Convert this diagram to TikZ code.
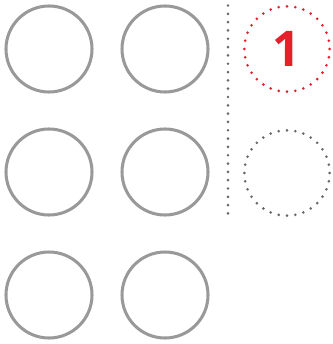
\documentclass[tikz,border=0pt]{standalone}
\usepackage{fontspec}
\newfontfamily\digitfont{Open Sans}
\usetikzlibrary{positioning}
\definecolor{ringgray}{RGB}{153, 153, 153}
\definecolor{dotgray}{RGB}{105, 105, 105}
\definecolor{markred}{RGB}{230, 32, 42}
\tikzset{
  ring/.style       = {circle, draw=ringgray, line width=2.6pt, minimum size=2.58cm, inner sep=0pt},
  dotring/.style    = {circle, line width=2.5pt, line cap=round, dash pattern=on 0pt off 7.15pt, minimum size=2.56cm, inner sep=0pt},
  divider/.style    = {dotgray, line width=2.5pt, line cap=round, dash pattern=on 0pt off 7.1pt},
}

\begin{document}
\begin{tikzpicture}[x=0.03cm, y=-0.03cm]
\useasboundingbox (0,0) rectangle (332,344);

% rings, two columns
\node[ring] (r11) at (49,49) {};
\node[ring] (r12) at (165,49) {};
\node[ring] (r21) at (49,172) {};
\node[ring] (r22) at (165,172) {};
\node[ring] (r31) at (49,295) {};
\node[ring] (r32) at (165,295) {};

% divider
\coordinate (dtop) at (228,5.5);
\coordinate (dbot) at (228,215);
\draw[divider] (dtop) -- (dbot);

% dotted rings on the right
\node[dotring, draw=markred, text=markred, font=\digitfont\bfseries\fontsize{42}{42}\selectfont] (sel) at (287,49) {1};
\node[dotring, draw=dotgray] (free) at (287,173) {};

\end{tikzpicture}
\end{document}
